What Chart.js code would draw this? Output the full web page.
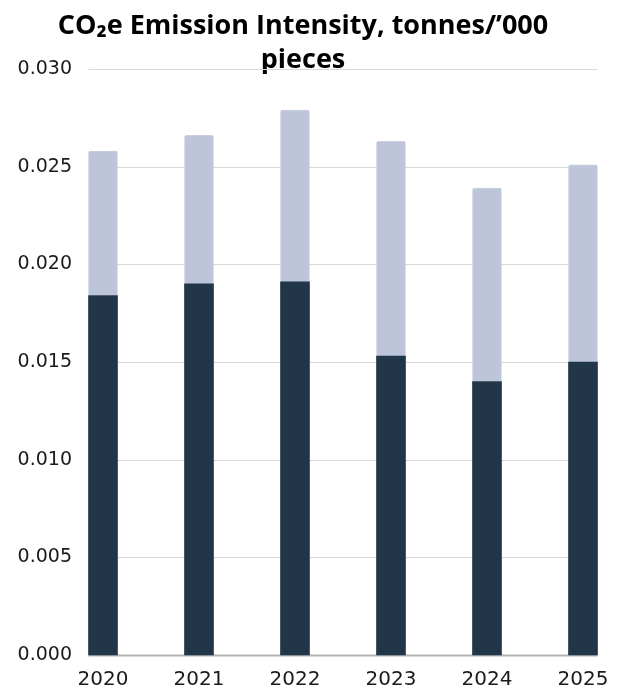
<!DOCTYPE html>
<html>
<head>
<meta charset="utf-8">
<script src="https://cdn.jsdelivr.net/npm/chart.js@4"></script>
<style>
  html, body { margin: 0; padding: 0; background: #fff; }
  #wrap { width: 628px; height: 689px; position: relative; }
</style>
</head>
<body>
<div id="wrap"><canvas id="chart"></canvas></div>
<script>
const years = ["2020", "2021", "2022", "2023", "2024", "2025"];
const scope1 = [0.0184, 0.0190, 0.0191, 0.0153, 0.0140, 0.0150];
const scope2 = [0.0074, 0.0076, 0.0088, 0.0110, 0.0099, 0.0101];
const yTicks = [0, 0.005, 0.010, 0.015, 0.020, 0.025, 0.030];

const barWidth = 29;

// grid lines run a half bar past the outer category centres
const gridPlugin = {
  id: "gridLines",
  beforeDatasetsDraw(chart) {
    const ctx = chart.ctx;
    const area = chart.chartArea;
    const y = chart.scales.y;
    const x0 = area.left - barWidth / 2;
    const x1 = area.right + barWidth / 2;
    ctx.save();
    yTicks.forEach((v) => {
      const py = Math.round(y.getPixelForValue(v)) + 0.5;
      ctx.beginPath();
      if (v === 0) {
        ctx.strokeStyle = "#b3b3b3";
        ctx.lineWidth = 2;
      } else {
        ctx.strokeStyle = "#d9d9d9";
        ctx.lineWidth = 1;
      }
      ctx.moveTo(x0, py);
      ctx.lineTo(x1, py);
      ctx.stroke();
    });
    ctx.restore();
  }
};

new Chart(document.getElementById("chart"), {
  type: "bar",
  data: {
    labels: years,
    datasets: [
      {
        label: "Scope 1",
        data: scope1,
        backgroundColor: "#213649",
        barThickness: barWidth,
        clip: false,
      },
      {
        label: "Scope 2",
        data: scope2,
        backgroundColor: "#bcc5d9",
        borderColor: "#c9d0e0",
        borderWidth: { top: 1, left: 1, right: 1, bottom: 0 },
        borderRadius: { topLeft: 2, topRight: 2 },
        borderSkipped: "bottom",
        barThickness: barWidth,
        clip: false,
      },
    ],
  },
  options: {
    responsive: true,
    maintainAspectRatio: false,
    animation: false,
    layout: { padding: { left: 10, right: 32, top: 0, bottom: 4 } },
    plugins: {
      legend: { display: false },
      tooltip: { enabled: false },
      title: {
        display: true,
        text: ["CO\u2082e Emission Intensity, tonnes/\u2019000", "pieces"],
        color: "#000",
        font: { family: "'Open Sans'", size: 27, weight: "bold", lineHeight: 1.26 },
        padding: { top: 9, bottom: -8 },
      },
    },
    scales: {
      x: {
        stacked: true,
        offset: false,
        grid: { display: false, drawTicks: false },
        border: { display: false },
        afterFit: (axis) => {
          axis.height = 30;
          axis.paddingRight = 45;
        },
        ticks: {
          color: "#1a1a1a",
          padding: 13,
          maxRotation: 0,
          font: { family: "'DejaVu Sans'", size: 20 },
        },
      },
      y: {
        stacked: true,
        min: 0,
        max: 0.03,
        grid: { display: false, drawTicks: false },
        border: { display: false },
        afterFit: (axis) => {
          axis.width = 93;
          axis.paddingTop = 0;
          axis.paddingBottom = 0;
        },
        afterBuildTicks: (axis) => {
          axis.ticks = yTicks.map((v) => ({ value: v }));
        },
        ticks: {
          color: "#1a1a1a",
          padding: 31,
          font: { family: "'DejaVu Sans'", size: 19 },
          callback: (v) => Number(v).toFixed(3),
        },
      },
    },
  },
  plugins: [gridPlugin],
});
</script>
</body>
</html>
